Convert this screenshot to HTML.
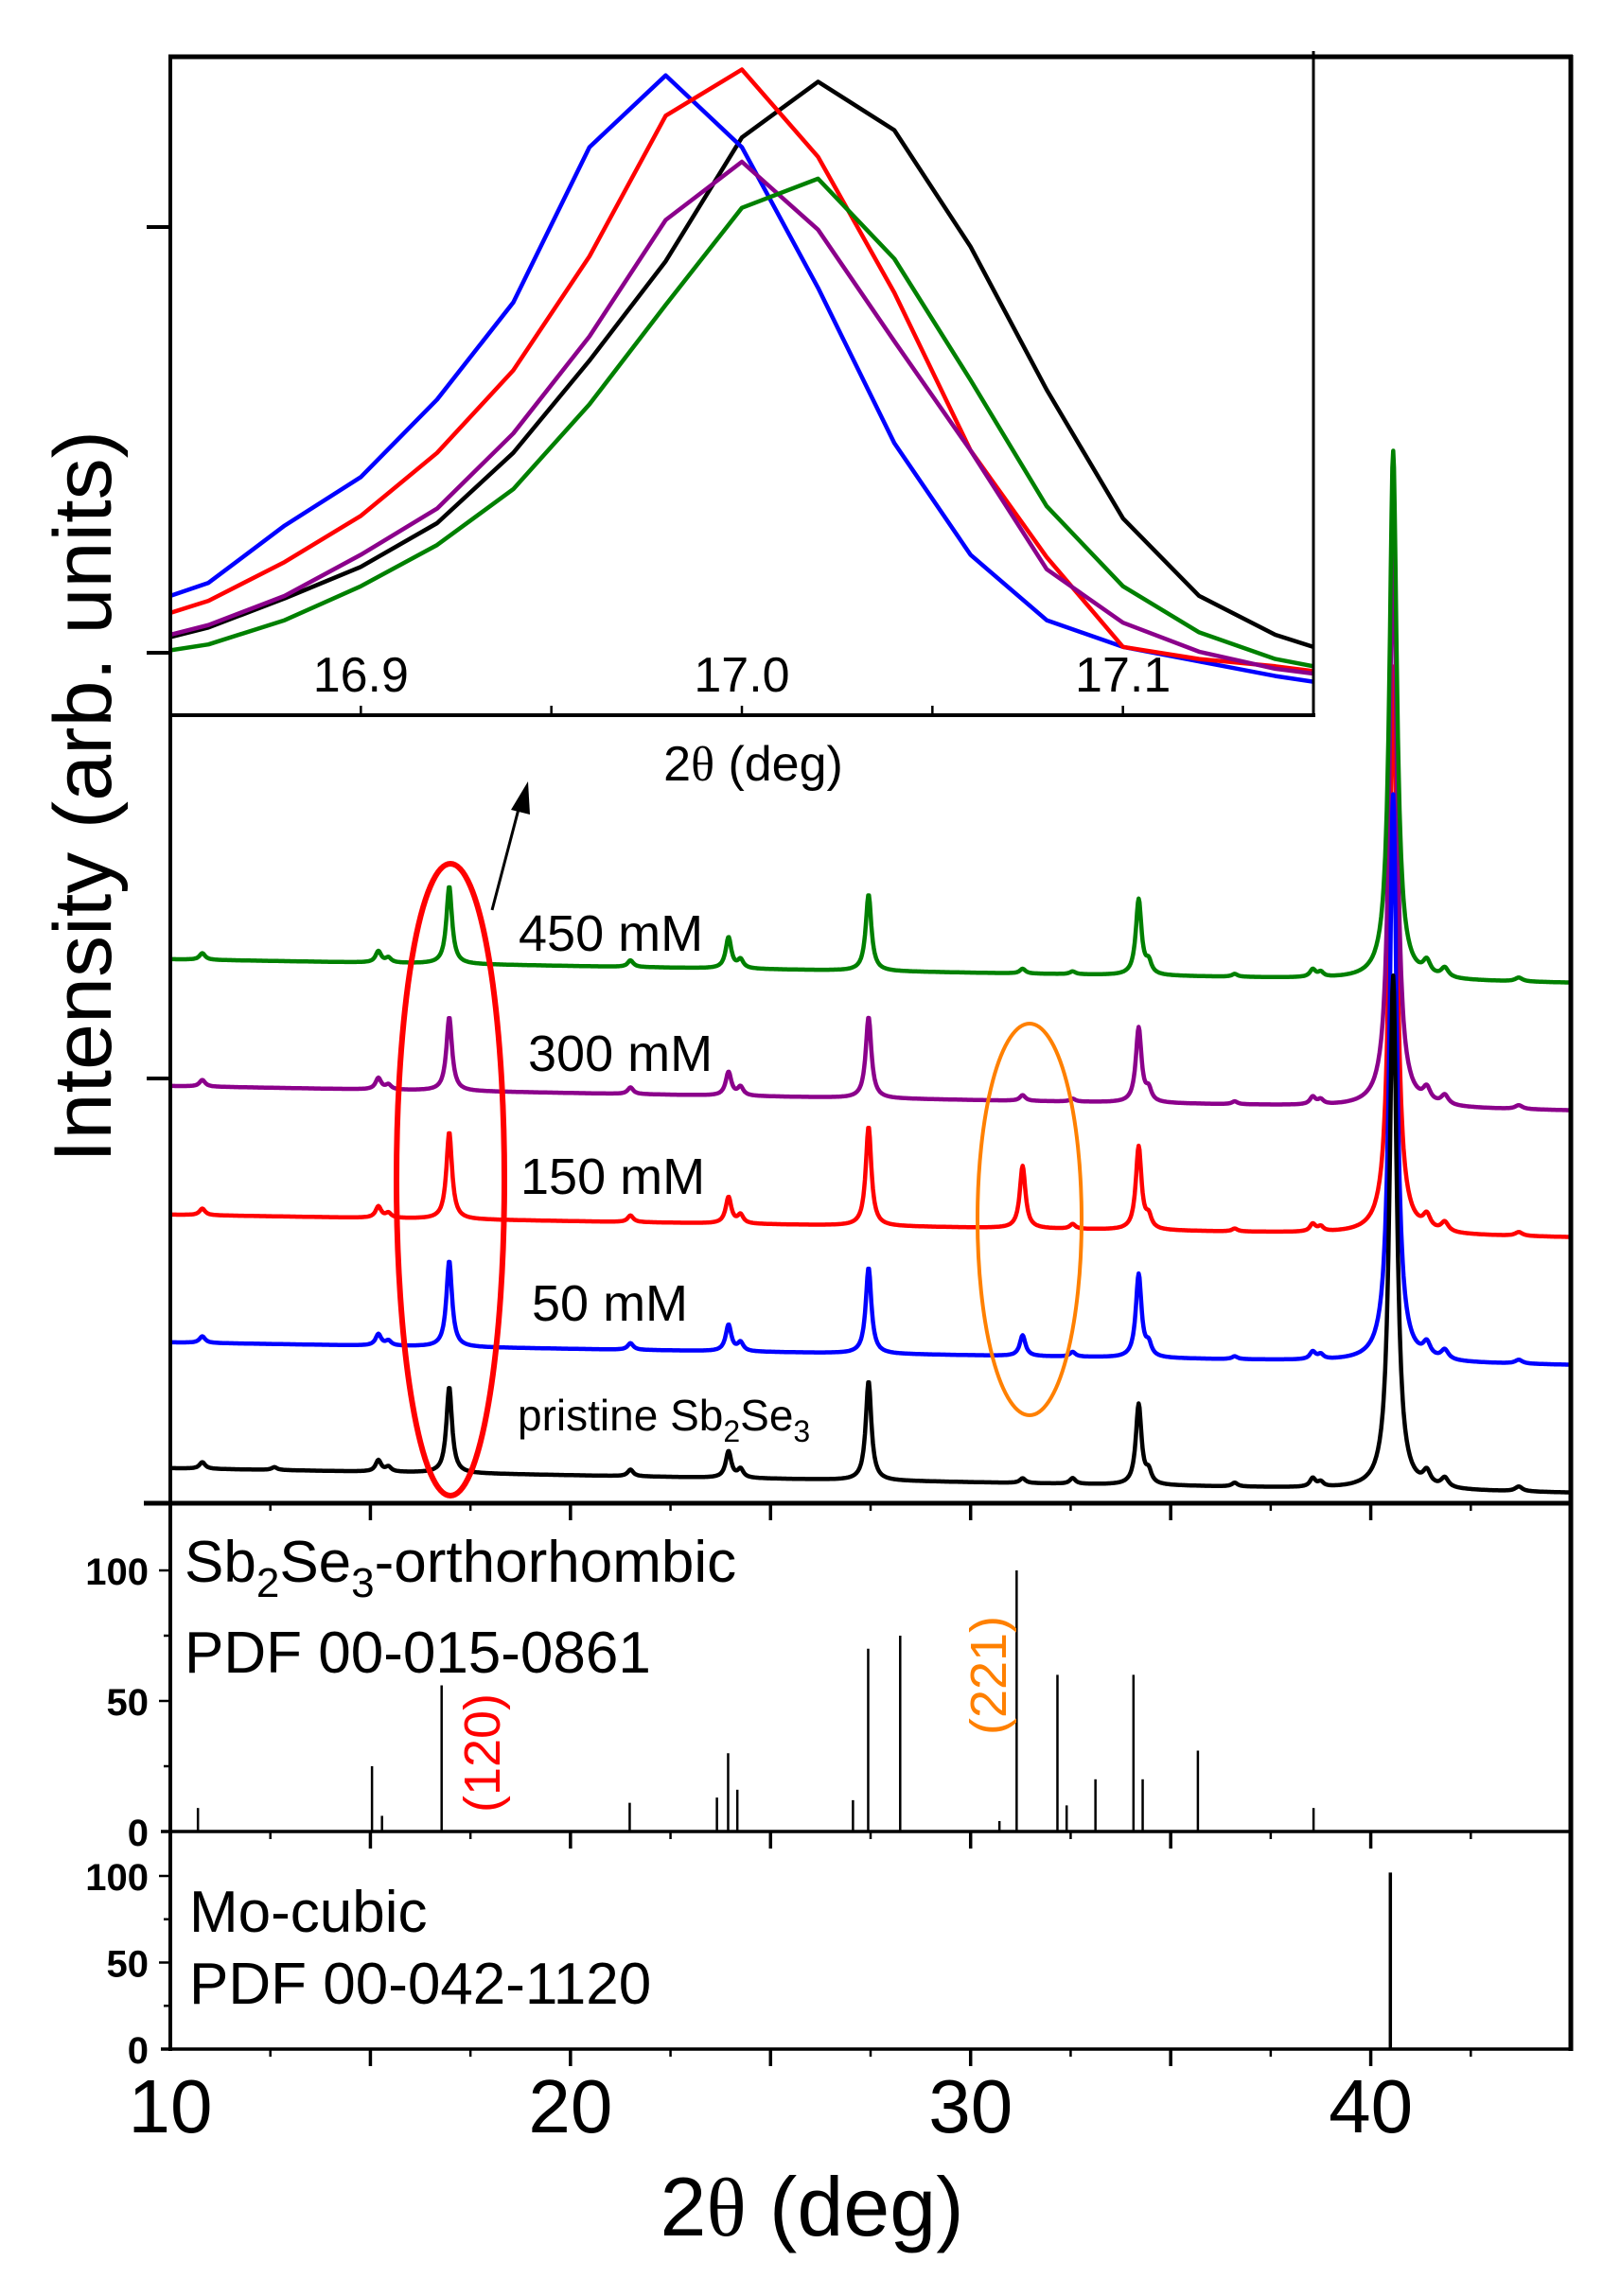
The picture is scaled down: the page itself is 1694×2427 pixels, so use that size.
<!DOCTYPE html>
<html><head><meta charset="utf-8"><style>
body{margin:0;background:#fff}
svg{display:block}
text{font-family:"Liberation Sans",Arial,sans-serif}
</style></head><body>
<svg id="chart" width="1694" height="2427" viewBox="0 0 1694 2427" xmlns="http://www.w3.org/2000/svg">
<g id="main-curves"></g>
<g id="inset"></g>
<g id="sticks"></g>
<g id="axes"></g>
<g id="annot">
  <text x="548" y="1005" font-size="54">450 mM</text>
  <text x="558" y="1132" font-size="54">300 mM</text>
  <text x="550" y="1262" font-size="54">150 mM</text>
  <text x="562" y="1396" font-size="54">50 mM</text>
  <text x="547" y="1512" font-size="46">pristine Sb<tspan font-size="32" dy="12">2</tspan><tspan dy="-12">Se</tspan><tspan font-size="32" dy="12">3</tspan></text>
  <ellipse cx="476" cy="1247" rx="57" ry="334" fill="none" stroke="#ff0000" stroke-width="6"/>
  <ellipse cx="1088" cy="1289" rx="55" ry="207" fill="none" stroke="#ff8000" stroke-width="4"/>
  <line x1="520" y1="962" x2="552" y2="840" stroke="#000" stroke-width="3"/>
  <polygon points="558,826 540,856 560,861" fill="#000"/>
  <text x="195" y="1672" font-size="62">Sb<tspan font-size="44" dy="16">2</tspan><tspan dy="-16">Se</tspan><tspan font-size="44" dy="16">3</tspan><tspan dy="-16">-orthorhombic</tspan></text>
  <text x="195" y="1768" font-size="62">PDF 00-015-0861</text>
  <text x="200" y="2042" font-size="62">Mo-cubic</text>
  <text x="200" y="2118" font-size="62">PDF 00-042-1120</text>
  <text transform="translate(528,1853) rotate(-90)" text-anchor="middle" font-size="54" fill="#ff0000">(120)</text>
  <text transform="translate(1063,1771) rotate(-90)" text-anchor="middle" font-size="54" fill="#ff8000">(221)</text>
  <text transform="translate(117,842) rotate(-90)" text-anchor="middle" font-size="86" textLength="774" lengthAdjust="spacingAndGlyphs">Intensity (arb. units)</text>
  <text x="858" y="2363" text-anchor="middle" font-size="88">2<tspan font-family="Liberation Serif, serif">θ</tspan> (deg)</text>
  <text x="796" y="825" text-anchor="middle" font-size="52">2<tspan font-family="Liberation Serif, serif">θ</tspan> (deg)</text>
</g>
</svg>
<script>
// ---- main pattern data ----
const peakPos = [10.8,12.6,15.2,15.45,16.97,21.5,23.95,24.25,27.45,31.3,32.55,34.2,34.45,36.6,38.55,38.75,40.56,41.4,41.85,43.7];
const hBlack  = [7,3,12,5,91,7,28,9,105,5,6,85,12,4,9,5,543,14,10,5];
const hBlue   = [7,0,12,5,91,7,28,9,91,22,5,88,12,3,8,5,600,14,10,4];
const hRed    = [7,0,12,5,92,7,28,9,105,66,5,88,12,3,8,5,600,14,10,4];
const hPurple = [7,0,12,5,78,7,25,9,86,6,3,79,12,3,8,5,607,14,10,4];
const hGreen  = [7,0,12,5,82,7,33,9,81,5,3,80,12,3,8,5,559,14,10,4];
const baseLeft  = [37,170,305,441,575];
const baseRight = [11,146,281,415,550];
const seriesNames = ["pristine","50-mM","150-mM","300-mM","450-mM"];
const seriesColors = ["#000000","#0000ff","#ff0000","#8b008b","#008000"];
// ---- inset data ----
const insetX = [16.85,16.86,16.88,16.90,16.92,16.94,16.96,16.98,17.00,17.02,17.04,17.06,17.08,17.10,17.12,17.14,17.15];
const inBlack  = [153,173,233,298,388,533,723,928,1183,1298,1198,958,663,398,238,158,133];
const inBlue   = [238,265,383,483,643,843,1163,1311,1163,873,553,323,188,133,103,73,61];
const inRed    = [203,228,308,403,533,703,938,1228,1323,1143,863,538,318,133,108,93,83];
const inPurple = [158,178,238,323,418,573,773,1013,1133,993,763,538,293,183,123,88,78];
const inGreen  = [126,138,188,258,343,458,633,838,1038,1098,933,683,423,258,163,108,93];
const insetTicks = [16.9,17.0,17.1];
const insetTickLabels = ["16.9","17.0","17.1"];
// ---- reference sticks ----
const sbPos = [10.69,15.04,15.29,16.78,21.48,23.66,23.94,24.17,27.06,27.44,28.24,30.72,31.15,32.17,32.40,33.12,34.07,34.30,35.68,38.57];
const sbInt = [9,25,6,56,11,13,30,16,12,70,75,4,100,60,10,20,60,20,31,9];
const moPos = [40.49];
const moInt = [102];
const xTicks = [10,20,30,40];
const xTickLabels = ["10","20","30","40"];
const refTicks = [0,50,100];
const refTickLabels = ["0","50","100"];

const NS="http://www.w3.org/2000/svg";
const X0=180, X1=1660, XMIN=10, XMAX=45;
const xS = d => X0 + (d-XMIN)/(XMAX-XMIN)*(X1-X0);
const MAIN_BOT=1589, MAIN_TOP=60;
const yMain = v => MAIN_BOT - v;
const MID_BOT=1936, MID_SC=2.76;
const yMid = v => MID_BOT - v*MID_SC;
const LOW_BOT=2166, LOW_SC=1.83;
const yLow = v => LOW_BOT - v*LOW_SC;
const IX0=180, IX1=1388, IXMIN=16.85, IXMAX=17.15, IY0=756;
const xIn = d => IX0 + (d-IXMIN)/(IXMAX-IXMIN)*(IX1-IX0);
const yIn = v => IY0 - 4 - v/1.95;

function mk(tag, attrs, parent){const e=document.createElementNS(NS,tag);for(const k in attrs)e.setAttribute(k,attrs[k]);parent.appendChild(e);return e;}

// main curves
const mainG=document.getElementById('main-curves');
const heights=[hBlack,hBlue,hRed,hPurple,hGreen];
const order=[2,3,4,1,0];
order.forEach(si=>{
  const hs=heights[si];let d="";
  for(let x=XMIN;x<=XMAX+1e-9;x+=0.02){
    let v=baseLeft[si]+(baseRight[si]-baseLeft[si])*(x-XMIN)/(XMAX-XMIN);
    for(let k=0;k<peakPos.length;k++){const w=peakPos[k]>40?0.11:0.085;const t=(x-peakPos[k])/w;v+=hs[k]/(1+t*t);}
    d+=(d?"L":"M")+xS(x).toFixed(1)+","+yMain(v).toFixed(1);
  }
  const p=mk('path',{d:d,fill:"none",stroke:seriesColors[si],"stroke-width":4.5,"stroke-linejoin":"round"},mainG);
  
  
});

// inset
const inG=document.getElementById('inset');
const bg=mk('rect',{x:IX0,y:MAIN_TOP,width:IX1-IX0,height:IY0-MAIN_TOP,fill:"#fff"},inG);


const clip=mk('clipPath',{id:"inclip"},inG);
mk('rect',{x:IX0,y:MAIN_TOP,width:IX1-IX0,height:IY0-MAIN_TOP},clip);
const inSeries=[inBlack,inBlue,inRed,inPurple,inGreen];
[0,1,2,3,4].forEach(si=>{
  const pts=insetX.map((x,i)=>xIn(x).toFixed(1)+","+yIn(inSeries[si][i]).toFixed(1)).join(" ");
  const pl=mk('polyline',{points:pts,fill:"none",stroke:seriesColors[si],"stroke-width":4.5,"stroke-linejoin":"round","clip-path":"url(#inclip)"},inG);
  
  
});
const ib=mk('line',{x1:IX0,y1:IY0,x2:IX1+2,y2:IY0,stroke:"#000","stroke-width":4},inG);


const ir=mk('line',{x1:IX1,y1:MAIN_TOP-6,x2:IX1,y2:IY0,stroke:"#000","stroke-width":3},inG);


for(let t=16.9;t<17.15;t+=0.05){
  const tk=mk('line',{x1:xIn(t),y1:IY0,x2:xIn(t),y2:IY0-10,stroke:"#000","stroke-width":2.5},inG);
  
  
}
insetTicks.forEach((t,i)=>{
  const tl=mk('text',{x:xIn(t),y:731,"text-anchor":"middle","font-size":52},inG);
  tl.textContent=insetTickLabels[i];
  
  
});

// sticks
const sg=document.getElementById('sticks');
sbPos.forEach((p,i)=>{
  const l=mk('line',{x1:xS(p),x2:xS(p),y1:MID_BOT,y2:yMid(sbInt[i]),stroke:"#000","stroke-width":2.5},sg);
  
  
});
moPos.forEach((p,i)=>{
  const l=mk('line',{x1:xS(p),x2:xS(p),y1:LOW_BOT,y2:yLow(moInt[i]),stroke:"#000","stroke-width":3.5},sg);
  
  
});

// axes
const ag=document.getElementById('axes');
function ln(x1,y1,x2,y2,w,name){const l=mk('line',{x1,y1,x2,y2,stroke:"#000","stroke-width":w},ag);return l;}
ln(X0,MAIN_TOP-2,X0,LOW_BOT+2,4,'left-axis');
ln(X1,MAIN_TOP-2,X1,LOW_BOT+2,5,'right-axis');
ln(X0-2,MAIN_TOP,X1+2,MAIN_TOP,5,'top-border');
ln(152,MAIN_BOT,X1,MAIN_BOT,5,'main-bottom-axis');
ln(X0-10,MID_BOT,X1,MID_BOT,3.5,'mid-bottom-axis');
ln(X0-10,LOW_BOT,X1,LOW_BOT,3.5,'x-axis');
[MAIN_BOT,MID_BOT,LOW_BOT].forEach((yb,j)=>{
  for(let t=12.5;t<XMAX;t+=2.5){
    const major=Math.abs(t%5)<1e-6;
    ln(xS(t),yb,xS(t),yb+(major?18:8),major?3.5:2.5,'x-tick');
  }
});
[240,690,1140].forEach(y=>ln(X0-25,y,X0,y,4,'y-tick'));
xTicks.forEach((t,i)=>{
  const tl=mk('text',{x:xS(t),y:2254,"text-anchor":"middle","font-size":80},ag);
  tl.textContent=xTickLabels[i];
  
  
});
[[yMid,MID_BOT],[yLow,LOW_BOT]].forEach(([fy,bot],pi)=>{
  for(let v=25;v<=100;v+=25){const y=fy(v);ln(X0-(v%50===0?12:7),y,X0,y,2.5,'ref-y-tick');}
  refTicks.forEach((v,i)=>{
    const tl=mk('text',{x:157,y:fy(v)+15,"text-anchor":"end","font-size":40,"font-weight":"bold"},ag);
    tl.textContent=refTickLabels[i];
    
    
  });
});
</script>
</body></html>
